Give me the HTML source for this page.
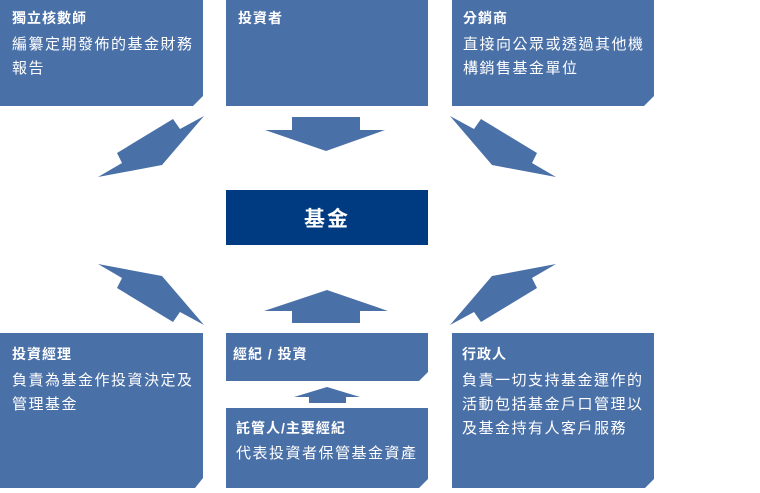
<!DOCTYPE html>
<html><head><meta charset="utf-8"><style>
html,body{margin:0;padding:0;background:#fff;}
svg text{font-family:"Liberation Sans","Noto Sans CJK TC",sans-serif;fill:#fff;font-size:15px;letter-spacing:1.5px;}
svg text.b{font-weight:bold;font-size:14px;letter-spacing:1px;}
</style></head><body>
<svg width="760" height="488" viewBox="0 0 760 488" xmlns="http://www.w3.org/2000/svg">
<g fill="#4a70a8">
<polygon points="0,0 203,0 203,96 193,106 0,106"/>
<polygon points="226,0 428,0 428,106 226,106"/>
<polygon points="452,0 654,0 654,96 644,106 452,106"/>
<polygon points="0,333 203,333 203,478 195,488 0,488"/>
<polygon points="226,333 428,333 428,372 419,381 226,381"/>
<polygon points="226,408 428,408 428,479 419,488 226,488"/>
<polygon points="452,333 654,333 654,479 645,488 452,488"/>
<polygon points="292,117 360,117 360,130 385,130 326,151 265,130 292,130"/>
<polygon points="204,116 162,165 98,177 122,163 117,153 173,119 180,129"/>
<polygon points="450,116 492,165 556,177 532,163 537,153 481,119 474,129"/>
<polygon points="204,325 162,276 98,264 122,278 117,288 173,322 180,312"/>
<polygon points="450,325 492,276 556,264 532,278 537,288 481,322 474,312"/>
<polygon points="327,290 388,311 360,311 360,323 292,323 292,311 264,311"/>
<polygon points="327,387 360,397 346,397 346,403 309,403 309,397 294,397"/>
</g>
<rect x="226" y="190" width="202" height="55" fill="#003a80"/>
<text x="327" y="226" text-anchor="middle" style="font-size:21px;font-weight:bold;letter-spacing:2px">基金</text>

<text class="b" x="12" y="23">獨立核數師</text>
<text x="12" y="49">編纂定期發佈的基金財務</text>
<text x="12" y="73">報告</text>

<text class="b" x="238" y="23">投資者</text>

<text class="b" x="463" y="23">分銷商</text>
<text x="463" y="49">直接向公眾或透過其他機</text>
<text x="463" y="73">構銷售基金單位</text>

<text class="b" x="12" y="359">投資經理</text>
<text x="12" y="385">負責為基金作投資決定及</text>
<text x="12" y="409">管理基金</text>

<text class="b" x="233" y="359">經紀 / 投資</text>

<text class="b" x="236" y="433">託管人/主要經紀</text>
<text x="236" y="458">代表投資者保管基金資產</text>

<text class="b" x="462" y="359">行政人</text>
<text x="462" y="385">負責一切支持基金運作的</text>
<text x="462" y="409">活動包括基金戶口管理以</text>
<text x="462" y="433">及基金持有人客戶服務</text>
</svg>
</body></html>
